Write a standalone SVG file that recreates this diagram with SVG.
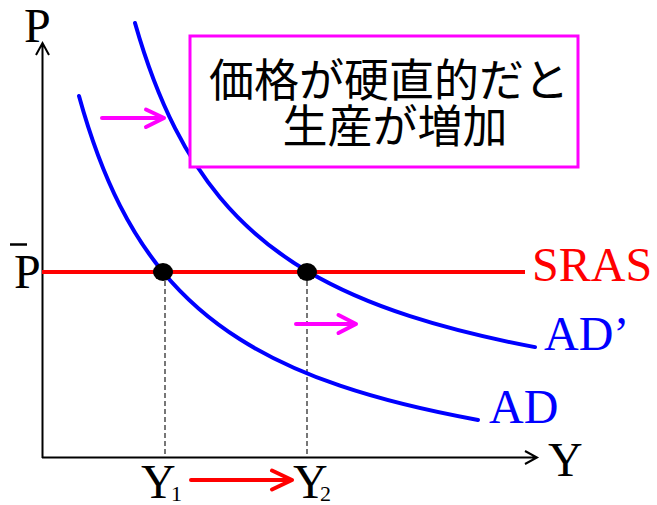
<svg xmlns="http://www.w3.org/2000/svg" width="657" height="505" viewBox="0 0 657 505">
<defs>
<style>
.axis{stroke:#000;stroke-width:2;fill:none}
.curve{stroke:#0000ff;stroke-width:4;fill:none;stroke-linecap:round}
.dash{stroke:#555;stroke-width:1.6;stroke-dasharray:5,3;fill:none}
.shift{stroke:#ff00ff;stroke-width:4;fill:none;stroke-linecap:round;stroke-linejoin:round}
.move{stroke:#ff0000;stroke-width:4;fill:none;stroke-linecap:round;stroke-linejoin:round}
.lbl{font-family:"Liberation Serif","Times New Roman",serif;font-size:48px}
.jp{font-family:"Noto Sans CJK JP","Noto Sans",sans-serif;font-size:45px;fill:#000;text-anchor:middle}
</style>
</defs>
<rect width="657" height="505" fill="#fff"/>
<g id="connectors">
<path class="dash" d="M165,281 V457 M307,281 V457"/>
<path id="y-axis" class="axis" d="M42.5,458 V43 M36,55 L42.5,43 L49,55"/>
<path id="x-axis" class="axis" d="M42,457.5 H537 M525,451 L537,457.5 L525,464"/>
<path id="sras-line" d="M42,272 H525" stroke="#ff0000" stroke-width="4" fill="none"/>
<path id="ad-curve" class="curve" d="M79,96 C92.67,145.5 106.33,178.7 120,205.6 C134.33,233.85 148.67,254.63 163,272 C188.67,303.1 214.33,323.1 240,339.3 C273.33,360.3 306.67,374.4 340,385.7 C386,401.3 432,411.6 478,420"/>
<path id="ad2-curve" class="curve" d="M135,23 C148.33,69.8 161.67,101.9 175,128.2 C190,157.8 205,179.45 220,197.5 C249,232.4 278,253.85 307,271.05 C341.33,291.4 375.67,305.1 410,316.2 C451.67,329.7 493.33,339.3 535,347.1"/>
<path id="shift-arrow-1" class="shift" d="M102,118 H164 M146,109.5 L164,118 L146,127"/>
<path id="shift-arrow-2" class="shift" d="M296,324 H356 M338.5,315 L356,324 L338.5,333"/>
<path id="output-arrow" class="move" d="M191,480 H292 M272,470.5 L292,480 L272,489.5"/>
</g>
<g id="note-box">
<rect x="190" y="36" width="388" height="131" fill="#fff" stroke="#ff00ff" stroke-width="3"/>
<text class="jp" x="389" y="97">価格が硬直的だと</text>
<text class="jp" x="395" y="143">生産が増加</text>
</g>
<g id="eq1"><ellipse cx="163" cy="272" rx="10" ry="9" fill="#000"/></g>
<g id="eq2"><ellipse cx="307" cy="272" rx="10" ry="9" fill="#000"/></g>
<g id="label-P"><text class="lbl" x="24" y="42">P</text></g>
<g id="label-Pbar"><text class="lbl" x="14" y="288">P</text><path d="M10,244.5 H27" stroke="#000" stroke-width="2.5"/></g>
<g id="label-Y"><text class="lbl" x="548" y="476">Y</text></g>
<g id="label-Y1"><text class="lbl" x="141" y="498">Y</text><text class="lbl" x="171" y="501" style="font-size:22px">1</text></g>
<g id="label-Y2"><text class="lbl" x="293" y="498">Y</text><text class="lbl" x="320" y="501" style="font-size:22px">2</text></g>
<g id="label-SRAS"><text class="lbl" x="532" y="281" fill="#ff0000">SRAS</text></g>
<g id="label-AD2"><text class="lbl" x="544" y="350" fill="#0000ff">AD’</text></g>
<g id="label-AD"><text class="lbl" x="489" y="423" fill="#0000ff">AD</text></g>
</svg>
